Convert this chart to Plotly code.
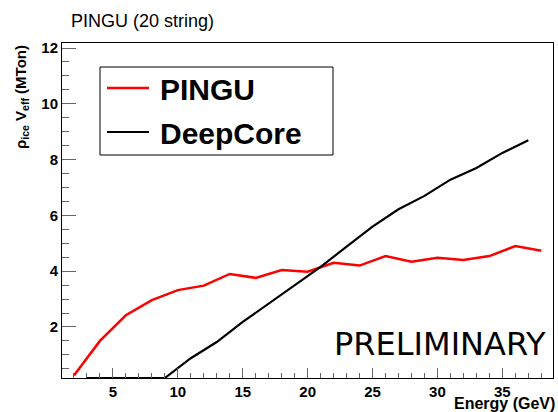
import plotly.graph_objects as go

# ---- data ----
pingu_energy = [2, 4, 6, 8, 10, 12, 14, 16, 18, 20, 22, 24, 26, 28, 30, 32, 34, 36, 38]
pingu_veff = [0.26, 1.50, 2.42, 2.96, 3.32, 3.48, 3.90, 3.76, 4.04, 3.98,
              4.30, 4.20, 4.54, 4.34, 4.48, 4.40, 4.54, 4.90, 4.73]

deepcore_energy = [3, 5, 7, 9, 11, 13, 15, 17, 19, 21, 23, 25, 27, 29, 31, 33, 35, 37]
deepcore_veff = [0.17, 0.17, 0.17, 0.17, 0.88, 1.46, 2.18, 2.84, 3.52, 4.15,
                 4.88, 5.60, 6.22, 6.70, 7.28, 7.70, 8.24, 8.69]

series_names = ["PINGU", "DeepCore"]
series_colors = ["#ff0000", "#000000"]
series_widths = [2.5, 2.2]

x_range = [1.08, 38.9]
y_range = [0.17, 12.18]

FONT = "Liberation Sans, Arial, Helvetica, sans-serif"

# plot-area geometry in pixels
W, H = 558, 412
ML, MR, MT, MB = 62, 5, 43, 34
PW, PH = W - ML - MR, H - MT - MB


def px(xp):
    return (xp - ML) / PW


def py(yp):
    return (H - MB - yp) / PH


fig = go.Figure()
for name, xs, ys, col, lw in zip(series_names, [pingu_energy, deepcore_energy],
                                 [pingu_veff, deepcore_veff], series_colors, series_widths):
    fig.add_trace(go.Scatter(x=xs, y=ys, mode="lines", name=name,
                             line=dict(color=col, width=lw), showlegend=False))

tickfont = dict(family=FONT, size=15, color="black", weight="bold")

# hand-built legend box (ROOT TLegend look)
shapes = [dict(type="rect", xref="paper", yref="paper",
               x0=px(100), x1=px(333), y0=py(155), y1=py(67),
               line=dict(color="black", width=1), fillcolor="white", layer="above")]
annotations = []
for i, (name, col, lw) in enumerate(zip(series_names, series_colors, series_widths)):
    yc = 88 + i * 44
    shapes.append(dict(type="line", xref="paper", yref="paper",
                       x0=px(107), x1=px(149), y0=py(yc), y1=py(yc),
                       line=dict(color=col, width=lw), layer="above"))
    annotations.append(dict(text=name, xref="paper", yref="paper", x=px(158), y=py(yc + 1),
                            xanchor="left", yanchor="middle", showarrow=False,
                            font=dict(family=FONT, size=30, color="black", weight="bold")))

annotations += [
    dict(text="PINGU (20 string)", xref="paper", yref="paper", x=px(69), y=py(21),
         xanchor="left", yanchor="middle", showarrow=False,
         font=dict(family=FONT, size=18, color="black")),
    dict(text="ρ<sub>ice</sub> V<sub>eff</sub> (MTon)", xref="paper", yref="paper",
         x=px(21), y=py(43), xanchor="center", yanchor="top", textangle=-90,
         showarrow=False, font=dict(family=FONT, size=15, color="black", weight="bold")),
    dict(text="Energy (GeV)", xref="paper", yref="paper", x=px(557), y=py(404),
         xanchor="right", yanchor="middle", showarrow=False,
         font=dict(family=FONT, size=16, color="black", weight="bold")),
    dict(text="PRELIMINARY", xref="paper", yref="paper", x=px(548), y=py(344),
         xanchor="right", yanchor="middle", showarrow=False,
         font=dict(family="DejaVu Sans, Verdana, sans-serif", size=32, color="black")),
]

fig.update_layout(
    width=W, height=H,
    margin=dict(l=ML, r=MR, t=MT, b=MB),
    paper_bgcolor="white", plot_bgcolor="white",
    showlegend=False,
    shapes=shapes,
    annotations=annotations,
    xaxis=dict(
        range=x_range, tickmode="linear", tick0=0, dtick=5,
        ticks="inside", ticklen=10, tickwidth=1, tickcolor="#666",
        minor=dict(dtick=1, tick0=0, ticks="inside", ticklen=5, tickwidth=1, tickcolor="#666"),
        showline=True, linecolor="black", linewidth=1, mirror=True,
        showgrid=False, zeroline=False, tickfont=tickfont, automargin=False,
    ),
    yaxis=dict(
        range=y_range, tickmode="linear", tick0=0, dtick=2,
        ticks="inside", ticklen=14, tickwidth=1, tickcolor="#666",
        minor=dict(dtick=0.5, tick0=0, ticks="inside", ticklen=7, tickwidth=1, tickcolor="#666"),
        showline=True, linecolor="black", linewidth=1, mirror=True,
        showgrid=False, zeroline=False, tickfont=tickfont, automargin=False,
    ),
)

fig.write_html("out.html", config={"displayModeBar": False},
               post_script="document.body.style.margin='0';document.body.style.overflow='hidden';")
